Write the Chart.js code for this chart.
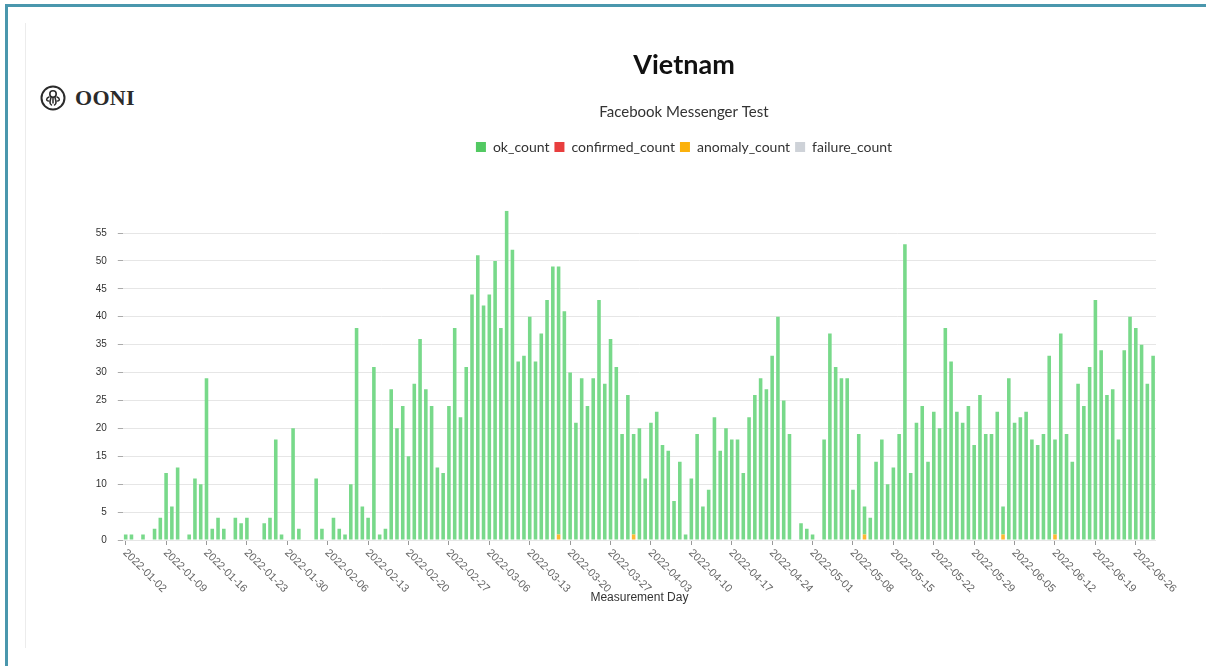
<!DOCTYPE html>
<html>
<head>
<meta charset="utf-8">
<title>Vietnam - Facebook Messenger Test</title>
<script src="https://cdn.jsdelivr.net/npm/chart.js@4.4.1/dist/chart.umd.min.js"></script>
<style>
  html, body { margin: 0; padding: 0; background: #fff; overflow: hidden; }
  body { width: 1206px; height: 666px; position: relative; }
  #frameTop { position: absolute; left: 5px; top: 4px; width: 1201px; height: 3px; background: #4a97ad; }
  #frameLeft { position: absolute; left: 5px; top: 4px; width: 3px; height: 662px; background: #4a97ad; }
  #innerLine { position: absolute; left: 25px; top: 23px; width: 1px; height: 625px; background: #ececec; }
  #logo { position: absolute; left: 40px; top: 85px; display: flex; align-items: center; }
  #logo span { font: bold 22px "Liberation Serif", serif; color: #2b2b2b; margin-left: 9px; letter-spacing: 0.3px; }
  #chartBox { position: absolute; left: 0; top: 0; }
</style>
</head>
<body>
<div id="frameTop"></div>
<div id="frameLeft"></div>
<div id="innerLine"></div>
<div id="logo">
  <svg width="26" height="26" viewBox="0 0 26 26">
    <circle cx="13" cy="13" r="11.5" fill="none" stroke="#2b2b2b" stroke-width="2"/>
    <circle cx="13" cy="9" r="3.2" fill="none" stroke="#2b2b2b" stroke-width="1.6"/>
    <path d="M9 12 C6 13 6 16 8.5 16 M17 12 C20 13 20 16 17.5 16 M11 12.5 C10 16 9 19 11.5 20 M15 12.5 C16 16 17 19 14.5 20 M13 12.5 L13 18"
          fill="none" stroke="#2b2b2b" stroke-width="1.5" stroke-linecap="round"/>
  </svg>
  <span>OONI</span>
</div>
<canvas id="chartBox" width="1206" height="666"></canvas>
<script>
// first measurement day; one value per day from here on
const startDay = '2022-01-02';

// ok_count per day, one line per month
const okCount = [
  1, 1, 0, 1, 0, 2, 4, 12, 6, 13, 0, 1, 11, 10, 29, 2, 4, 2, 0, 4, 3, 4, 0, 0, 3, 4, 18, 1, 0, 20,
  2, 0, 0, 11, 2, 0, 4, 2, 1, 10, 38, 6, 4, 31, 1, 2, 27, 20, 24, 15, 28, 36, 27, 24, 13, 12, 24, 38,
  22, 31, 44, 51, 42, 44, 50, 38, 59, 52, 32, 33, 40, 32, 37, 43, 49, 48, 41, 30, 21, 29, 24, 29, 43, 28, 36, 31, 19, 26, 18,
  20, 11, 21, 23, 17, 16, 7, 14, 1, 11, 19, 6, 9, 22, 16, 20, 18, 18, 12, 22, 26, 29, 27, 33, 40, 25, 19, 0, 3, 2,
  1, 0, 18, 37, 31, 29, 29, 9, 19, 5, 4, 14, 18, 10, 13, 19, 53, 12, 21, 24, 14, 23, 20, 38, 32, 23, 21, 24, 17, 26, 19,
  19, 23, 5, 29, 21, 22, 23, 18, 17, 19, 33, 17, 37, 19, 14, 28, 24, 31, 43, 34, 26, 27, 18, 34, 40, 38, 35, 28, 33
];

// anomaly_count per day (the small orange bits at the bottom)
const anomalyCount = [
  0, 0, 0, 0, 0, 0, 0, 0, 0, 0, 0, 0, 0, 0, 0, 0, 0, 0, 0, 0, 0, 0, 0, 0, 0, 0, 0, 0, 0, 0,
  0, 0, 0, 0, 0, 0, 0, 0, 0, 0, 0, 0, 0, 0, 0, 0, 0, 0, 0, 0, 0, 0, 0, 0, 0, 0, 0, 0,
  0, 0, 0, 0, 0, 0, 0, 0, 0, 0, 0, 0, 0, 0, 0, 0, 0, 1, 0, 0, 0, 0, 0, 0, 0, 0, 0, 0, 0, 0, 1,
  0, 0, 0, 0, 0, 0, 0, 0, 0, 0, 0, 0, 0, 0, 0, 0, 0, 0, 0, 0, 0, 0, 0, 0, 0, 0, 0, 0, 0, 0,
  0, 0, 0, 0, 0, 0, 0, 0, 0, 1, 0, 0, 0, 0, 0, 0, 0, 0, 0, 0, 0, 0, 0, 0, 0, 0, 0, 0, 0, 0, 0,
  0, 0, 1, 0, 0, 0, 0, 0, 0, 0, 0, 1, 0, 0, 0, 0, 0, 0, 0, 0, 0, 0, 0, 0, 0, 0, 0, 0, 0
];

// no confirmed or failed measurements show up in the picture
const confirmedCount = okCount.map(() => 0);
const failureCount = okCount.map(() => 0);

// labelled days on the x axis (weekly)
const tickLabels = [
  '2022-01-02', '2022-01-09', '2022-01-16', '2022-01-23', '2022-01-30', '2022-02-06', '2022-02-13',
  '2022-02-20', '2022-02-27', '2022-03-06', '2022-03-13', '2022-03-20', '2022-03-27', '2022-04-03',
  '2022-04-10', '2022-04-17', '2022-04-24', '2022-05-01', '2022-05-08', '2022-05-15', '2022-05-22',
  '2022-05-29', '2022-06-05', '2022-06-12', '2022-06-19', '2022-06-26'
];

const legendNames = ['ok_count', 'confirmed_count', 'anomaly_count', 'failure_count'];
const legendColors = ['#52c962', '#e83e3e', '#fbb10c', '#ced2d8'];
const barColors = ['#78d98a', '#ec5a5a', '#fcb932', '#d6d9de'];

const t0 = Date.parse(startDay + 'T00:00:00Z');
const days = okCount.map((v, i) => new Date(t0 + i * 86400000).toISOString().slice(0, 10));

// the x labels run down to the right, which chart.js can't do itself
const dayLabels = {
  id: 'dayLabels',
  afterDraw(chart) {
    const sc = chart.scales.x;
    const ctx = chart.ctx;
    ctx.save();
    ctx.font = '11px "Liberation Sans", Arial, sans-serif';
    ctx.fillStyle = '#666';
    ctx.textAlign = 'left';
    ctx.textBaseline = 'middle';
    sc.ticks.forEach((t, i) => {
      const x = sc.getPixelForTick(i);
      ctx.save();
      ctx.translate(x - 1, sc.top + 11);
      ctx.rotate(Math.PI / 4);
      ctx.fillText(t.label, 0, 0);
      ctx.restore();
    });
    ctx.restore();
  }
};

// extra room between the legend and the plot
const legendGap = {
  id: 'legendGap',
  afterInit(chart) {
    const fit = chart.legend.fit;
    chart.legend.fit = function () {
      fit.call(this);
      this.height += 46.7;
    };
  }
};

// header (title, subtitle, legend) sits right of the plot centre in the original
const headerShift = {
  id: 'headerShift',
  afterLayout(chart) {
    chart.boxes.forEach(b => {
      if (b.position === 'top' && !(b instanceof Chart.Scale)) {
        b.left += 106;
        b.right += 106;
      }
    });
  }
};

const sets = [okCount, confirmedCount, anomalyCount, failureCount];
const stackOrder = [3, 1, 0, 2];

new Chart(document.getElementById('chartBox'), {
  type: 'bar',
  data: {
    labels: days,
    datasets: sets.map((d, i) => ({
      label: legendNames[i],
      data: d,
      backgroundColor: barColors[i],
      borderWidth: 0,
      order: stackOrder[i],
      barPercentage: 0.62,
      categoryPercentage: 1
    }))
  },
  options: {
    responsive: false,
    animation: false,
    layout: { padding: { top: 0, left: 0, right: 50, bottom: 0 } },
    plugins: {
      title: {
        display: true,
        text: 'Vietnam',
        color: '#111',
        font: { family: 'Lato', size: 27, weight: 'bold' },
        padding: { top: 49, bottom: 21.6 }
      },
      subtitle: {
        display: true,
        text: 'Facebook Messenger Test',
        color: '#333',
        font: { family: 'Lato', size: 15 },
        padding: { top: 0, bottom: 14 }
      },
      legend: {
        labels: {
          boxWidth: 10,
          boxHeight: 10,
          padding: 5,
          color: '#333',
          font: { family: 'Lato', size: 14 },
          sort: (a, b) => a.datasetIndex - b.datasetIndex,
          generateLabels: chart => {
            const items = Chart.defaults.plugins.legend.labels.generateLabels(chart);
            items.forEach(it => {
              it.fillStyle = legendColors[it.datasetIndex];
              it.strokeStyle = legendColors[it.datasetIndex];
              it.lineWidth = 0;
            });
            return items;
          }
        }
      },
      tooltip: { enabled: false }
    },
    scales: {
      x: {
        stacked: true,
        afterBuildTicks: s => { s.ticks = s.ticks.filter(t => tickLabels.includes(days[t.value])); },
        afterFit: s => { s.height = 126; },
        ticks: { autoSkip: false, minRotation: 45, maxRotation: 45, color: 'rgba(0,0,0,0)', font: { size: 11 } },
        grid: { offset: false, drawOnChartArea: false, drawTicks: true, tickLength: 5, tickColor: '#999' },
        border: { display: false },
        title: {
          display: true,
          text: 'Measurement Day',
          color: '#333',
          font: { family: '"Liberation Sans", Arial, sans-serif', size: 12 },
          padding: { top: 0, bottom: 60.8 }
        }
      },
      y: {
        stacked: true,
        min: 0,
        max: 59,
        afterBuildTicks: s => { s.ticks = s.ticks.filter(t => t.value % 5 === 0); },
        afterFit: s => { s.width = 122.8; },
        ticks: { stepSize: 5, padding: 11, color: '#333', font: { family: '"Liberation Sans", Arial, sans-serif', size: 10 } },
        grid: { color: '#e6e6e6', tickColor: '#aaa', tickLength: 5 },
        border: { display: false }
      }
    }
  },
  plugins: [dayLabels, legendGap, headerShift]
});
</script>
</body>
</html>
